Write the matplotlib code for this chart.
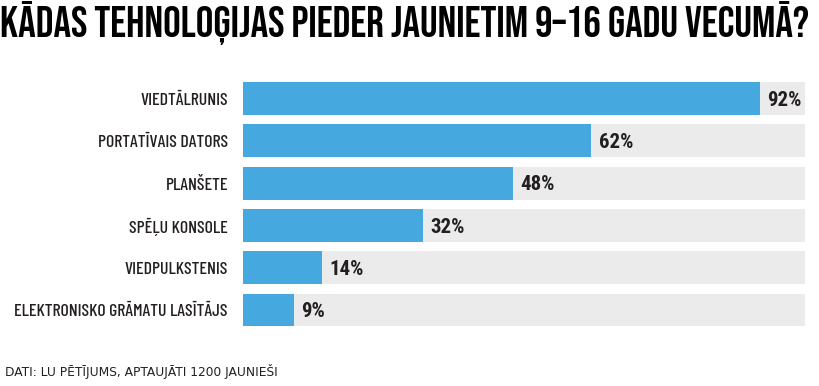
import matplotlib
matplotlib.use("Agg")
import matplotlib.pyplot as plt

# data
labels = ["VIEDTĀLRUNIS", "PORTATĪVAIS DATORS", "PLANŠETE", "SPĒĻU KONSOLE",
          "VIEDPULKSTENIS", "ELEKTRONISKO GRĀMATU LASĪTĀJS"]
values = [92, 62, 48, 32, 14, 9]
title = "KĀDAS TEHNOLOĢIJAS PIEDER JAUNIETIM 9–16 GADU VECUMĀ?"
source = "DATI: LU PĒTĪJUMS, APTAUJĀTI 1200 JAUNIEŠI"

blue = "#45a8de"
grey = "#ebebeb"
ink = "#231f20"
title_font = ["Bebas Neue", "Roboto Condensed", "DejaVu Sans"]
label_font = ["Barlow Condensed", "Roboto Condensed", "DejaVu Sans"]
value_font = ["Roboto Condensed", "DejaVu Sans"]

fig = plt.figure(figsize=(8.2, 3.86), dpi=100)
ax = fig.add_axes([0.2963, 0.1421, 0.6854, 0.6575])

ypos = list(range(len(labels)))
ax.barh(ypos, [100] * len(values), height=0.78, color=grey, zorder=1)
ax.barh(ypos, values, height=0.78, color=blue, zorder=2)

for y, v in zip(ypos, values):
    ax.text(v + 1.35, y + 0.04, f"{v}%", va="center", ha="left",
            fontsize=15, fontweight="bold", color=ink, family=value_font, zorder=3)

ax.set_xlim(0, 100)
ax.set_ylim(len(labels) - 0.5, -0.5)
ax.set_yticks(ypos)
ax.set_yticklabels(labels, family=label_font, fontsize=12.8, fontweight="medium", color=ink)
ax.tick_params(axis="y", length=0, pad=10.8)
ax.set_xticks([])
for s in ax.spines.values():
    s.set_visible(False)

t = fig.text(0.0, 0.904, title, family=title_font, fontweight="bold", fontsize=30,
             color="black", ha="left", va="baseline")
src = fig.text(0.006, 0.038, source, family="DejaVu Sans", fontsize=8.3, color=ink,
               ha="left", va="center")

# scale title and source to the widths seen in the reference
r = fig.canvas.get_renderer()
for txt, target in [(t, 808), (src, 272)]:
    w = txt.get_window_extent(r).width
    txt.set_fontsize(txt.get_fontsize() * target / w)

fig.savefig("out.png", dpi=100)
